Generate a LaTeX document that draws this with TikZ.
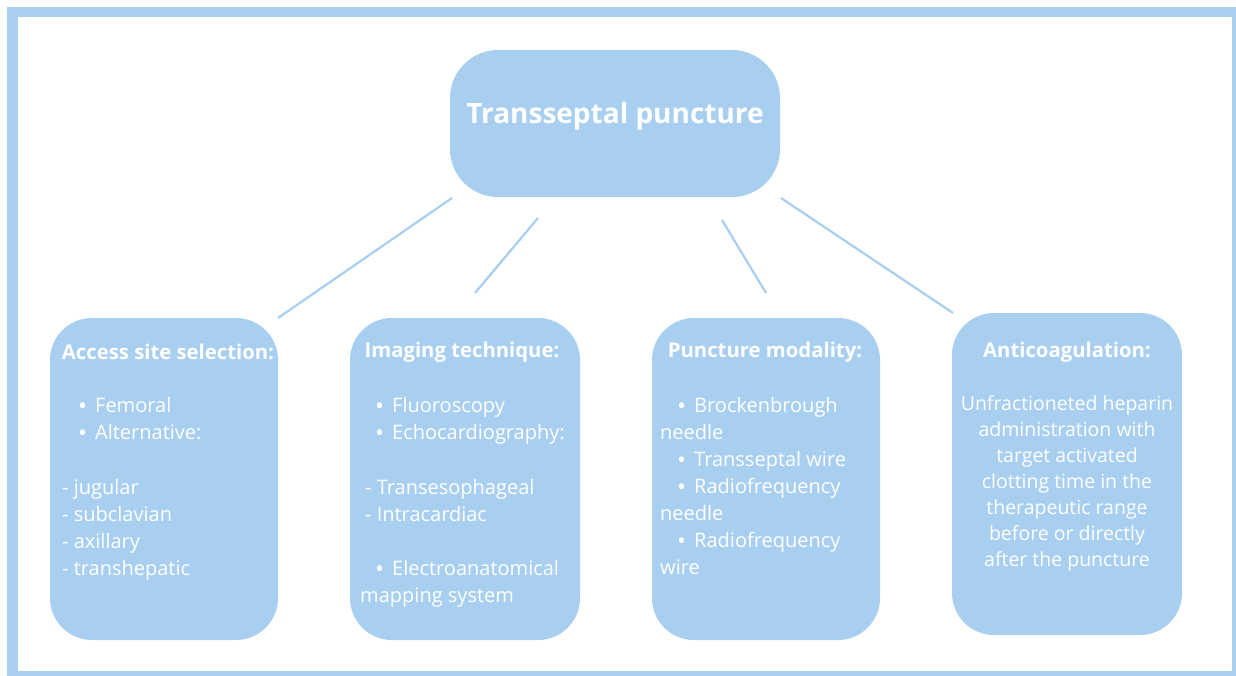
\documentclass[tikz,border=0pt]{standalone}
\usepackage{fontspec}
\setmainfont{Open Sans}
\definecolor{boxblue}{RGB}{168,207,240}
\tikzset{
  x=1pt,y=-1pt,
  bubble/.style={fill=boxblue,draw=none,rounded corners=42pt},
  head/.style={text=white,font=\fontsize{20.3}{22}\selectfont\bfseries,inner sep=0pt},
  body/.style={text=white,font=\fontsize{20}{27}\selectfont,inner sep=0pt,anchor=base west},
  link/.style={draw=boxblue,line width=2.2pt},
}
\newcommand{\bul}{\makebox[0pt][r]{\raisebox{-2.2pt}{\fontsize{24}{24}\selectfont\textbullet}\hspace{8pt}}}
\begin{document}
\begin{tikzpicture}
\useasboundingbox (0,0) rectangle (1236,676);
\fill[white] (0,0) rectangle (1236,676);
\fill[boxblue] (7,7) rectangle (1236,676);
\fill[white] (18,17) rectangle (1232,671);
% top
\path[bubble,rounded corners=48pt] (450,50) rectangle (780,197);
\node[text=white,font=\fontsize{28}{34}\selectfont\bfseries,inner sep=0pt] (top) at (615,116) {Transseptal puncture};
% boxes
\path[bubble] (50,318) rectangle (278,640);
\path[bubble] (350,318) rectangle (580,640);
\path[bubble] (652,318) rectangle (880,640);
\path[bubble] (952,313) rectangle (1182,635);
% connectors
\coordinate (t1) at (452,198); \coordinate (b1) at (278,318);
\coordinate (t2) at (538,218); \coordinate (b2) at (475,293);
\coordinate (t3) at (722,220); \coordinate (b3) at (766,293);
\coordinate (t4) at (781,198); \coordinate (b4) at (953,313);
\draw[link] (t1) -- (b1);
\draw[link] (t2) -- (b2);
\draw[link] (t3) -- (b3);
\draw[link] (t4) -- (b4);
% box 1
\node[head] (h1) at (168,352) {Access site selection:};
\node[body] (a1) at (95,412) {\bul Femoral};
\node[body] (a2) at (95,439) {\bul Alternative:};
\node[body] (a3) at (62,494) {- jugular};
\node[body] (a4) at (62,521) {- subclavian};
\node[body] (a5) at (62,548) {- axillary};
\node[body] (a6) at (62,575) {- transhepatic};
% box 2
\node[head] (h2) at (462,352) {Imaging technique:};
\node[body] (i1) at (392,412) {\bul Fluoroscopy};
\node[body] (i2) at (392,439) {\bul Echocardiography:};
\node[body] (i3) at (365,494) {- Transesophageal};
\node[body] (i4) at (365,521) {- Intracardiac};
\node[body] (i5) at (392,575) {\bul Electroanatomical};
\node[body] (i6) at (360,602) {mapping system};
% box 3
\node[head] (h3) at (765,352) {Puncture modality:};
\node[body] (p1) at (694,412) {\bul Brockenbrough};
\node[body] (p2) at (660,439) {needle};
\node[body] (p3) at (694,466) {\bul Transseptal wire};
\node[body] (p4) at (694,493) {\bul Radiofrequency};
\node[body] (p5) at (660,520) {needle};
\node[body] (p6) at (694,547) {\bul Radiofrequency};
\node[body] (p7) at (660,574) {wire};
% box 4
\node[head] (h4) at (1067,352) {Anticoagulation:};
\node[text=white,font=\fontsize{19.5}{26}\selectfont,inner sep=0pt,align=center,anchor=north] (c1) at (1067,395) {Unfractioneted heparin\\administration with\\target activated\\clotting time in the\\therapeutic range\\before or directly\\after the puncture};
\end{tikzpicture}
\end{document}
